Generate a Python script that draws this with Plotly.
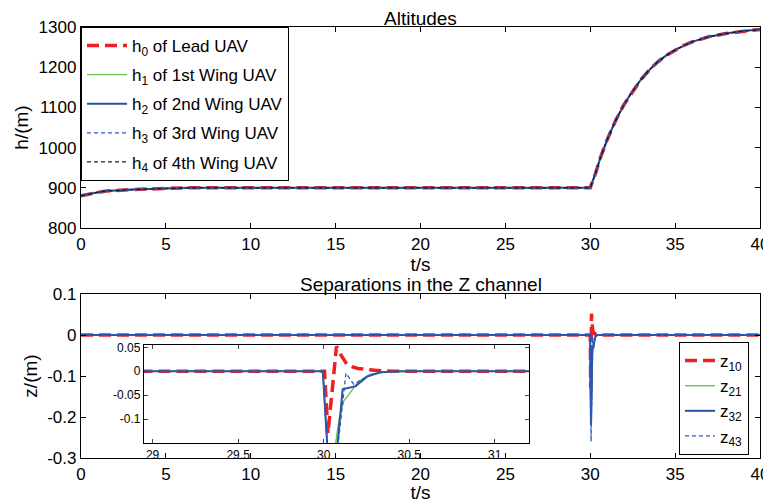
import plotly.graph_objects as go

# ---------------- data ----------------
# Altitudes
h_t = [0, 0.5, 1, 1.5, 2, 3, 4, 5, 6, 6.3, 10, 20, 30,
       30.3, 30.6, 31, 31.5, 32, 32.5, 33, 33.5, 34, 34.5, 35, 35.5, 36, 37, 38, 39, 40]
h_lead = [880, 885, 889, 892, 893.5, 895.5, 897, 898, 898.5, 900, 900, 900, 900,
          935, 975, 1020, 1068, 1108, 1141, 1170, 1194, 1214, 1230, 1243, 1254, 1263, 1276, 1284, 1290, 1294]
h_wing1 = list(h_lead)
h_wing2 = list(h_lead)
h_wing3 = list(h_lead)
h_wing4 = list(h_lead)

# Z-channel separations
z10_t = [0, 30.005, 30.025, 30.045, 30.06, 30.075, 30.1, 30.14, 30.2, 30.3, 30.4, 40]
z10 = [0, 0, -0.13, -0.05, 0.0, 0.052, 0.035, 0.012, 0.006, 0.002, 0, 0]

z21_t = [0, 29.995, 30.02, 30.045, 30.07, 30.09, 30.117, 30.146, 30.205, 30.275, 30.35, 30.5, 40]
z21 = [0, 0, -0.15, -0.19, -0.15, -0.1, -0.0625, -0.048, -0.021, -0.006, -0.002, 0, 0]

z32_t = [0, 29.995, 30.02, 30.045, 30.082, 30.111, 30.187, 30.257, 30.333, 30.45, 40]
z32 = [0, 0, -0.15, -0.22, -0.15, -0.0375, -0.031, -0.0104, -0.002, 0, 0]

z43_t = [0, 29.995, 30.02, 30.05, 30.085, 30.13, 30.175, 30.257, 30.333, 30.45, 40]
z43 = [0, 0, -0.15, -0.26, -0.15, -0.004, -0.027, -0.0104, -0.002, 0, 0]

# tick labels
x_ticks = [0, 5, 10, 15, 20, 25, 30, 35, 40]
h_ticks = [800, 900, 1000, 1100, 1200, 1300]
z_tickvals = [0.1, 0, -0.1, -0.2, -0.3]
z_ticktext = ["0.1", "0", "-0.1", "-0.2", "-0.3"]
inset_xticks = [29, 29.5, 30, 30.5, 31]
inset_xtext = ["29", "29.5", "30", "30.5", "31"]
inset_ytickvals = [0.05, 0, -0.05, -0.1]
inset_yticktext = ["0.05", "0", "-0.05", "-0.1"]

# ---------------- styles ----------------
RED = "rgb(240,30,35)"
GREEN = "rgb(110,195,80)"
BLUE = "rgb(40,80,165)"
BLUE_D = "rgb(45,90,195)"
BLACK_D = "rgb(25,25,40)"
FONT = "Liberation Sans, Arial, sans-serif"

styles = [
    dict(color=RED, width=3.5, dash="12px,6px"),
    dict(color=GREEN, width=1.4, dash="solid"),
    dict(color=BLUE, width=2, dash="solid"),
    dict(color=BLUE_D, width=1.3, dash="4px,3px"),
    dict(color=BLACK_D, width=1.3, dash="4px,3px"),
]

fig = go.Figure()

h_series = [h_lead, h_wing1, h_wing2, h_wing3, h_wing4]
h_names = ["h<sub>0</sub> of Lead UAV", "h<sub>1</sub> of 1st Wing UAV",
           "h<sub>2</sub> of 2nd Wing UAV", "h<sub>3</sub> of 3rd Wing UAV",
           "h<sub>4</sub> of 4th Wing UAV"]
for i, (hv, nm) in enumerate(zip(h_series, h_names)):
    fig.add_trace(go.Scatter(x=h_t, y=hv, mode="lines", name=nm, line=styles[i],
                             xaxis="x", yaxis="y", legend="legend",
                             legendgroup="h%d" % i))

z_series = [(z10_t, z10), (z21_t, z21), (z32_t, z32), (z43_t, z43)]
z_names = ["z<sub>10</sub>", "z<sub>21</sub>", "z<sub>32</sub>", "z<sub>43</sub>"]
for i, ((zt, zv), nm) in enumerate(zip(z_series, z_names)):
    fig.add_trace(go.Scatter(x=zt, y=zv, mode="lines", name=nm, line=styles[i],
                             xaxis="x2", yaxis="y2", legend="legend2",
                             legendgroup="z%d" % i))
for i, (zt, zv) in enumerate(z_series):
    fig.add_trace(go.Scatter(x=zt, y=zv, mode="lines", line=styles[i],
                             xaxis="x3", yaxis="y3", showlegend=False))

ax_common = dict(showline=True, linecolor="black", linewidth=1.3, mirror="allticks",
                 ticks="inside", ticklen=5, tickcolor="black", showgrid=False,
                 zeroline=False, tickfont=dict(family=FONT, size=17, color="black"))
TITLE_FONT = dict(family=FONT, size=19, color="black")

# page has an 8px body margin: figure is 763x495 placed at (8, 8)
fig.update_layout(
    width=763, height=495,
    margin=dict(l=73, r=11, t=19, b=45, autoexpand=False),
    paper_bgcolor="white", plot_bgcolor="white",
    font=dict(family=FONT, size=17, color="black"),
    xaxis=dict(domain=[0, 1], anchor="y", range=[0, 40], tickvals=x_ticks,
               title=dict(text="t/s", standoff=0, font=TITLE_FONT), **ax_common),
    yaxis=dict(domain=[0.5336, 1], anchor="x", range=[800, 1300], tickvals=h_ticks,
               title=dict(text="h/(m)", standoff=4, font=TITLE_FONT), **ax_common),
    xaxis2=dict(domain=[0, 1], anchor="y2", range=[0, 40], tickvals=x_ticks,
                title=dict(text="t/s", standoff=0, font=TITLE_FONT), **ax_common),
    yaxis2=dict(domain=[0, 0.3805], anchor="x2", range=[-0.3, 0.1],
                tickvals=z_tickvals, ticktext=z_ticktext,
                title=dict(text="z/(m)", standoff=4, font=TITLE_FONT), **ax_common),
    xaxis3=dict(domain=[0.0928, 0.6598], anchor="y3", range=[28.95, 31.2],
                tickvals=inset_xticks, ticktext=inset_xtext,
                showline=True, linecolor="black", linewidth=1.3, mirror="allticks",
                ticks="inside", ticklen=4, showgrid=False, zeroline=False,
                tickfont=dict(family=FONT, size=12, color="black")),
    yaxis3=dict(domain=[0.0348, 0.2622], anchor="x3", range=[-0.15, 0.055],
                tickvals=inset_ytickvals, ticktext=inset_yticktext,
                showline=True, linecolor="black", linewidth=1.3, mirror="allticks",
                ticks="inside", ticklen=4, showgrid=False, zeroline=False,
                tickfont=dict(family=FONT, size=12, color="black")),
    legend=dict(x=0, y=1, xanchor="left", yanchor="top", bgcolor="white",
                bordercolor="black", borderwidth=1, traceorder="grouped",
                tracegroupgap=4, itemwidth=40, font=dict(family=FONT, size=17)),
    legend2=dict(x=0.9838, y=0.269, xanchor="right", yanchor="top", bgcolor="white",
                 bordercolor="black", borderwidth=1, traceorder="grouped",
                 tracegroupgap=0, font=dict(family=FONT, size=17)),
    annotations=[
        dict(text="Altitudes", x=0.5, y=1, xref="paper", yref="paper",
             xanchor="center", yanchor="bottom", showarrow=False, yshift=-4,
             font=TITLE_FONT),
        dict(text="Separations in the Z channel", x=0.5, y=0.3805, xref="paper",
             yref="paper", xanchor="center", yanchor="bottom", showarrow=False,
             yshift=-3, font=TITLE_FONT),
    ],
)

fig.write_html("out.html")
